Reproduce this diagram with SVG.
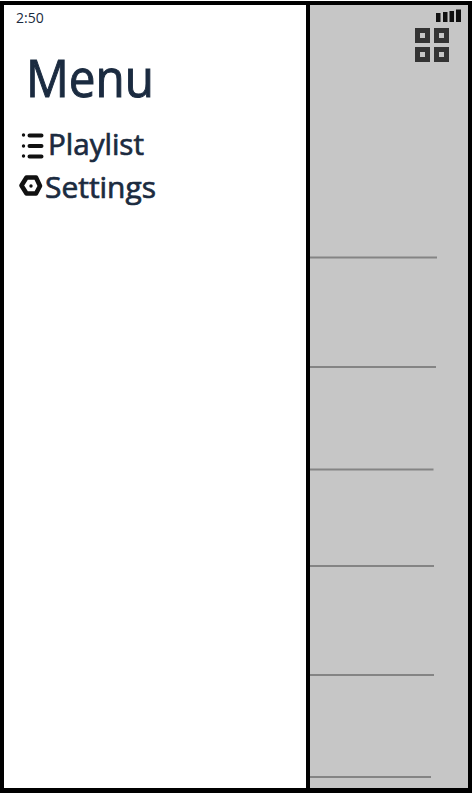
<svg xmlns="http://www.w3.org/2000/svg" width="472" height="793" viewBox="0 0 472 793">
<style>
.t{font-family:"Open Sans","Noto Sans",sans-serif;fill:#1b2b40;stroke:#1b2b40}
.r{stroke:#848484;stroke-width:2;fill:none}
.k{fill:#333}
.h{fill:#c6c6c6}
.b{fill:#111}
</style>
<rect width="472" height="793" fill="#000"/>
<rect width="472" height="1" fill="#fff"/>
<rect x="4" y="5" width="302" height="783" fill="#fff"/>
<rect x="310" y="5" width="158" height="783" fill="#c6c6c6"/>
<g id="status-time"><text class="t" x="16" y="23" font-size="14" stroke-width="0">2:50</text></g>
<g id="title"><text class="t" x="26" y="97" font-size="51" stroke-width="1" textLength="128" lengthAdjust="spacingAndGlyphs">Menu</text></g>
<g id="playlist">
<circle cx="23.500" cy="135" r="1.700" class="b"/><circle cx="23.500" cy="146" r="1.700" class="b"/><circle cx="23.500" cy="156" r="1.700" class="b"/>
<path d="M29.500 135.500h12M29.500 146h12M29.500 156.500h12" stroke="#111" stroke-width="4" stroke-linecap="round" fill="none"/>
<text class="t" x="48" y="155" font-size="30" stroke-width="0.700" textLength="96" lengthAdjust="spacingAndGlyphs">Playlist</text>
</g>
<g id="settings">
<path d="M26.500 177.500h9.500l4 8.500-4 7.500h-9.500l-5-8z" fill="none" stroke="#111" stroke-width="4.600" stroke-linejoin="round"/>
<circle cx="31" cy="186" r="1.700" class="b"/>
<text class="t" x="45" y="198" font-size="30" stroke-width="0.700" textLength="111" lengthAdjust="spacingAndGlyphs">Settings</text>
</g>
<g id="signal-icon">
<rect x="436" y="13" width="4.500" height="9" class="b"/>
<rect x="443" y="12" width="4.500" height="10" class="b"/>
<rect x="449.500" y="11" width="4.500" height="11" class="b"/>
<rect x="456" y="9.500" width="5" height="12.500" class="b"/>
</g>
<g id="grid-icon">
<rect x="415" y="28" width="15" height="15" class="k"/><rect x="434" y="28" width="15" height="15" class="k"/>
<rect x="415" y="47" width="15" height="15" class="k"/><rect x="434" y="47" width="15" height="15" class="k"/>
<rect x="420" y="33" width="5" height="5" class="h"/><rect x="439" y="33" width="5" height="5" class="h"/>
<rect x="420" y="52" width="5" height="5" class="h"/><rect x="439" y="52" width="5" height="5" class="h"/>
</g>
<g id="rules">
<path class="r" d="M310 257.500H437M310 367H436M310 469.500H433.500M310 566H434M310 675H434M310 777H431"/>
</g>
</svg>
